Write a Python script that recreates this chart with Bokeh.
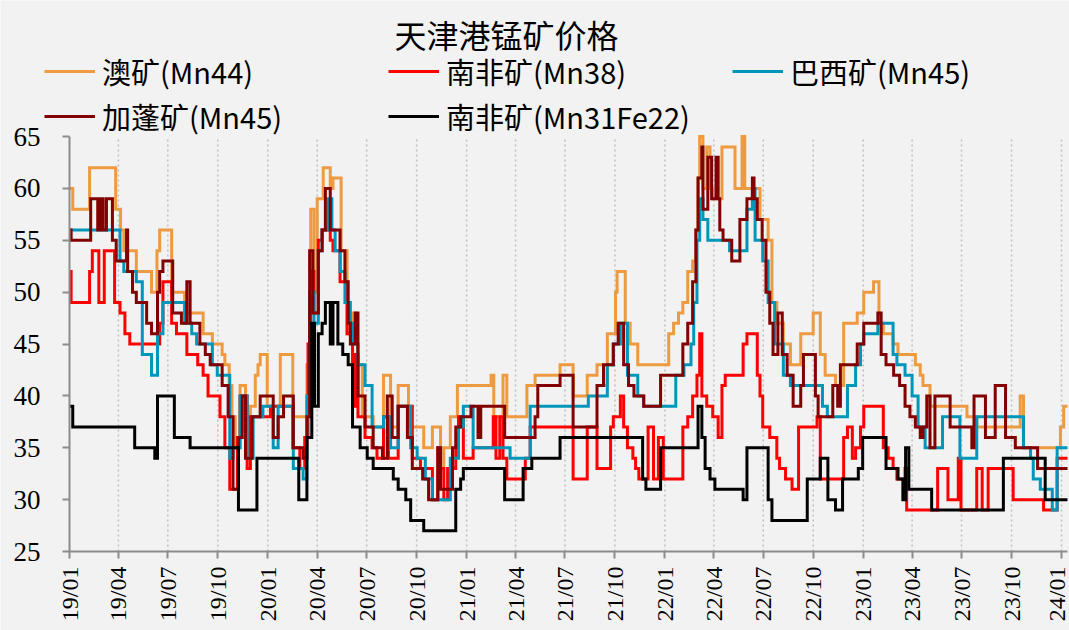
import pandas as pd
from math import pi
from bokeh.plotting import figure
from bokeh.models import (Legend, LegendItem, FixedTicker, DatetimeTickFormatter,
                          Range1d, ColumnDataSource, Label)
from bokeh.embed import file_html
from bokeh.resources import INLINE

# ---------------- data ----------------
title_text = "天津港锰矿价格"
series_names = ["澳矿(Mn44)", "南非矿(Mn38)", "巴西矿(Mn45)", "加蓬矿(Mn45)", "南非矿(Mn31Fe22)"]
series_colors = ["#EE9A40", "#FF0000", "#0096B9", "#820000", "#000000"]

tick_labels = ["19/01", "19/04", "19/07", "19/10", "20/01", "20/04", "20/07", "20/10",
               "21/01", "21/04", "21/07", "21/10", "22/01", "22/04", "22/07", "22/10",
               "23/01", "23/04", "23/07", "23/10", "24/01"]
y_ticks = [25, 30, 35, 40, 45, 50, 55, 60, 65]

aus_dates = ["2019-01-01", "2019-01-07", "2019-02-07", "2019-03-27", "2019-04-05", "2019-04-11",
             "2019-05-04", "2019-06-01", "2019-06-11", "2019-06-16", "2019-07-08", "2019-08-01",
             "2019-09-04", "2019-09-21", "2019-10-09", "2019-10-14", "2019-10-22", "2019-10-27",
             "2019-11-02", "2019-11-11", "2019-11-21", "2019-11-30", "2019-12-09", "2019-12-14",
             "2019-12-18", "2019-12-31", "2020-01-24", "2020-02-16", "2020-03-13", "2020-03-20",
             "2020-03-26", "2020-04-01", "2020-04-12", "2020-04-25", "2020-04-30", "2020-05-15",
             "2020-05-26", "2020-06-05", "2020-06-10", "2020-06-14", "2020-06-23", "2020-07-13",
             "2020-08-01", "2020-08-14", "2020-08-28", "2020-09-16", "2020-10-14", "2020-10-30",
             "2020-11-14", "2020-11-20", "2020-12-02", "2020-12-15", "2021-02-15", "2021-02-20",
             "2021-03-09", "2021-03-16", "2021-04-22", "2021-05-07", "2021-06-22", "2021-07-16",
             "2021-08-11", "2021-08-29", "2021-09-10", "2021-09-17", "2021-10-02", "2021-10-05",
             "2021-10-20", "2021-10-29", "2021-11-12", "2022-01-08", "2022-01-17", "2022-01-26",
             "2022-02-03", "2022-02-12", "2022-02-21", "2022-02-27", "2022-03-03", "2022-03-06",
             "2022-03-12", "2022-03-19", "2022-03-25", "2022-03-30", "2022-04-16", "2022-05-10",
             "2022-05-23", "2022-05-28", "2022-06-25", "2022-07-10", "2022-07-17", "2022-07-26",
             "2022-08-07", "2022-08-20", "2022-09-08", "2022-10-01", "2022-10-14", "2022-10-23",
             "2022-11-11", "2022-11-26", "2022-12-21", "2023-01-02", "2023-01-20", "2023-01-30",
             "2023-02-07", "2023-02-25", "2023-03-06", "2023-04-07", "2023-04-16", "2023-04-21",
             "2023-05-04", "2023-07-11", "2023-07-29", "2023-10-17", "2023-10-23", "2023-12-30",
             "2024-01-05", "2024-01-12"]
aus_vals = [60, 58, 62, 58, 56, 54, 52, 50, 54, 56, 50, 48, 46, 45, 44, 43, 41, 38, 35, 41,
            36, 39, 42, 43, 44, 39, 44, 38, 43, 58, 50, 59, 62, 60, 61, 54, 46, 48, 46, 43,
            38, 37, 42, 37, 41, 37, 35, 37, 33, 35, 38, 41, 42, 38, 42, 38, 41, 42, 43, 40,
            42, 43, 41, 46, 50, 52, 47, 45, 43, 46, 47, 48, 49, 52, 53, 56, 61, 65, 60, 64,
            60, 59, 64, 60, 65, 60, 57, 55, 49, 47, 45, 43, 46, 48, 44, 42, 41, 47, 48, 50,
            51, 47, 46, 45, 44, 43, 42, 41, 39, 38, 37, 40, 35, 37, 39, 39]

sa38_dates = ["2019-01-01", "2019-01-04", "2019-02-07", "2019-02-12", "2019-02-24", "2019-03-06",
              "2019-03-25", "2019-04-04", "2019-04-13", "2019-04-22", "2019-06-16", "2019-06-22",
              "2019-07-08", "2019-07-17", "2019-08-05", "2019-08-25", "2019-09-04", "2019-09-13",
              "2019-10-05", "2019-10-14", "2019-10-23", "2019-11-06", "2019-11-11", "2019-11-24",
              "2019-11-30", "2020-01-06", "2020-02-16", "2020-02-29", "2020-03-09", "2020-03-15",
              "2020-03-20", "2020-03-26", "2020-04-03", "2020-04-10", "2020-04-25", "2020-04-30",
              "2020-05-13", "2020-05-26", "2020-06-05", "2020-06-10", "2020-06-15", "2020-06-28",
              "2020-07-11", "2020-07-20", "2020-08-01", "2020-08-10", "2020-08-28", "2020-09-23",
              "2020-10-08", "2020-10-30", "2020-11-09", "2020-11-14", "2020-11-20", "2020-11-27",
              "2020-12-12", "2020-12-17", "2020-12-26", "2021-01-13", "2021-02-19", "2021-02-24",
              "2021-03-03", "2021-03-09", "2021-03-16", "2021-04-19", "2021-04-28", "2021-07-16",
              "2021-08-11", "2021-08-29", "2021-09-23", "2021-09-28", "2021-10-11", "2021-10-17",
              "2021-10-24", "2021-11-03", "2021-11-08", "2021-11-14", "2021-12-01", "2021-12-11",
              "2021-12-20", "2021-12-29", "2022-02-03", "2022-02-12", "2022-02-21", "2022-03-01",
              "2022-03-06", "2022-03-10", "2022-03-19", "2022-03-30", "2022-04-09", "2022-04-16",
              "2022-04-22", "2022-05-25", "2022-06-01", "2022-06-20", "2022-06-25", "2022-06-30",
              "2022-07-13", "2022-07-26", "2022-07-31", "2022-08-11", "2022-08-23", "2022-09-04",
              "2022-10-08", "2022-10-14", "2022-11-26", "2022-12-03", "2022-12-12", "2022-12-18",
              "2022-12-27", "2023-01-02", "2023-02-07", "2023-02-16", "2023-02-25", "2023-03-04",
              "2023-03-19", "2023-03-22", "2023-05-18", "2023-06-06", "2023-06-25", "2023-06-30",
              "2023-07-29", "2023-08-08", "2023-08-19", "2023-10-04", "2023-11-29", "2023-12-24",
              "2024-01-12"]
sa38_vals = [52, 49, 52, 54, 49, 54, 49, 48, 46, 45, 47, 51, 47, 46, 44, 43, 42, 40, 38, 35,
             31, 36, 40, 33, 38, 39, 35, 33, 36, 45, 52, 48, 55, 56, 55, 54, 51, 46, 39, 44,
             38, 36, 35, 34, 38, 34, 39, 34, 33, 30, 35, 33, 30, 33, 35, 38, 34, 35, 38, 34,
             38, 34, 32, 34, 37, 32, 37, 33, 37, 38, 40, 37, 35, 34, 33, 32, 37, 32, 36, 32,
             37, 38, 40, 42, 46, 40, 39, 38, 36, 41, 42, 45, 46, 42, 40, 37, 36, 34, 33, 32,
             31, 37, 38, 32, 36, 37, 34, 35, 37, 39, 35, 34, 33, 32, 33, 29, 33, 30, 34, 29,
             33, 29, 33, 30, 29, 34, 34]

bra_dates = ["2019-01-01", "2019-04-04", "2019-04-11", "2019-05-04", "2019-05-15", "2019-06-01",
             "2019-06-12", "2019-06-22", "2019-08-01", "2019-08-14", "2019-08-23", "2019-09-21",
             "2019-09-30", "2019-10-23", "2019-10-29", "2019-11-11", "2019-11-24", "2019-12-05",
             "2019-12-23", "2020-01-11", "2020-01-20", "2020-02-17", "2020-03-06", "2020-03-13",
             "2020-03-18", "2020-03-26", "2020-04-03", "2020-04-10", "2020-04-21", "2020-04-28",
             "2020-05-04", "2020-05-13", "2020-05-22", "2020-06-01", "2020-06-06", "2020-06-15",
             "2020-06-28", "2020-07-11", "2020-08-01", "2020-08-14", "2020-08-28", "2020-09-20",
             "2020-10-02", "2020-10-17", "2020-10-30", "2020-12-02", "2020-12-17", "2020-12-26",
             "2021-01-13", "2021-03-22", "2021-04-28", "2021-08-13", "2021-09-17", "2021-09-28",
             "2021-10-11", "2021-10-24", "2021-11-12", "2021-11-23", "2022-01-21", "2022-02-05",
             "2022-02-18", "2022-02-23", "2022-03-01", "2022-03-06", "2022-03-12", "2022-03-21",
             "2022-04-30", "2022-06-01", "2022-06-11", "2022-06-16", "2022-06-30", "2022-07-10",
             "2022-07-22", "2022-08-07", "2022-08-20", "2022-10-18", "2022-10-27", "2022-12-03",
             "2022-12-18", "2022-12-27", "2023-01-02", "2023-01-28", "2023-02-25", "2023-03-04",
             "2023-03-19", "2023-04-01", "2023-04-12", "2023-04-25", "2023-05-27", "2023-06-28",
             "2023-07-29", "2023-10-23", "2023-11-05", "2023-11-10", "2023-11-23", "2023-12-15",
             "2023-12-24", "2024-01-12"]
bra_vals = [56, 53, 52, 51, 44, 42, 46, 49, 47, 46, 45, 43, 42, 34, 35, 40, 34, 38, 39, 35,
            39, 33, 32, 40, 50, 47, 54, 56, 59, 56, 54, 52, 49, 47, 45, 43, 41, 37, 38, 35,
            39, 35, 34, 32, 30, 34, 37, 39, 35, 34, 39, 40, 43, 45, 47, 42, 40, 39, 42, 43,
            45, 49, 55, 59, 57, 55, 54, 58, 60, 55, 53, 49, 45, 42, 41, 39, 38, 41, 43, 45,
            46, 47, 44, 43, 42, 40, 37, 35, 38, 34, 38, 35, 34, 32, 31, 29, 35, 35]

gab_dates = ["2019-01-01", "2019-01-04", "2019-02-09", "2019-02-22", "2019-02-27", "2019-03-04",
             "2019-03-10", "2019-03-21", "2019-03-28", "2019-04-16", "2019-04-18", "2019-04-27",
             "2019-05-04", "2019-05-23", "2019-06-01", "2019-06-12", "2019-06-16", "2019-06-22",
             "2019-07-10", "2019-07-26", "2019-08-05", "2019-08-11", "2019-08-29", "2019-09-08",
             "2019-09-17", "2019-10-09", "2019-10-20", "2019-10-29", "2019-11-08", "2019-11-15",
             "2019-11-21", "2019-12-03", "2019-12-18", "2020-01-11", "2020-01-20", "2020-01-30",
             "2020-02-17", "2020-03-06", "2020-03-13", "2020-03-18", "2020-03-24", "2020-04-03",
             "2020-04-10", "2020-04-16", "2020-04-25", "2020-05-13", "2020-05-22", "2020-05-28",
             "2020-06-01", "2020-06-10", "2020-06-15", "2020-06-28", "2020-07-13", "2020-07-30",
             "2020-08-08", "2020-08-17", "2020-08-28", "2020-09-14", "2020-09-23", "2020-10-12",
             "2020-10-23", "2020-11-09", "2020-11-14", "2020-12-06", "2020-12-12", "2020-12-21",
             "2021-01-09", "2021-01-22", "2021-01-27", "2021-03-12", "2021-05-07", "2021-05-12",
             "2021-06-22", "2021-07-16", "2021-08-29", "2021-09-10", "2021-09-28", "2021-10-07",
             "2021-10-17", "2021-10-26", "2021-11-05", "2021-11-23", "2021-12-24", "2022-02-03",
             "2022-02-12", "2022-02-21", "2022-02-27", "2022-03-03", "2022-03-10", "2022-03-12",
             "2022-03-21", "2022-03-28", "2022-04-05", "2022-04-09", "2022-04-12", "2022-04-18",
             "2022-05-04", "2022-05-19", "2022-06-01", "2022-06-11", "2022-06-14", "2022-06-20",
             "2022-06-29", "2022-07-06", "2022-07-13", "2022-07-19", "2022-07-28", "2022-08-05",
             "2022-08-14", "2022-08-25", "2022-09-08", "2022-09-13", "2022-10-05", "2022-10-10",
             "2022-11-06", "2022-11-15", "2022-11-20", "2022-12-21", "2023-01-02", "2023-01-28",
             "2023-02-03", "2023-02-12", "2023-02-26", "2023-03-09", "2023-03-19", "2023-03-28",
             "2023-04-07", "2023-04-16", "2023-04-21", "2023-04-28", "2023-05-04", "2023-05-13",
             "2023-06-10", "2023-07-20", "2023-07-24", "2023-08-14", "2023-09-01", "2023-09-20",
             "2023-10-08", "2023-11-18", "2024-01-12"]
gab_vals = [56, 55, 59, 56, 59, 56, 59, 55, 53, 56, 52, 50, 49, 47, 46, 50, 52, 53, 48, 47,
            51, 47, 45, 44, 43, 41, 38, 31, 36, 40, 34, 38, 40, 36, 38, 40, 35, 34, 38, 54,
            48, 54, 56, 60, 56, 54, 51, 47, 45, 48, 40, 37, 35, 34, 40, 36, 39, 36, 33, 32,
            30, 35, 31, 35, 37, 38, 39, 36, 39, 36, 38, 41, 42, 37, 41, 43, 45, 47, 43, 41,
            40, 39, 42, 45, 47, 51, 56, 61, 64, 58, 63, 59, 63, 59, 56, 55, 53, 57, 59, 61,
            59, 57, 55, 50, 47, 44, 48, 44, 42, 39, 41, 44, 40, 38, 41, 39, 43, 45, 47, 48,
            44, 43, 42, 41, 39, 38, 37, 36, 37, 40, 35, 40, 37, 35, 40, 36, 41, 36, 35, 33,
            33]

sa31_dates = ["2019-01-01", "2019-01-07", "2019-05-01", "2019-06-07", "2019-06-12", "2019-07-13",
              "2019-08-11", "2019-11-08", "2019-12-12", "2020-02-27", "2020-03-13", "2020-03-22",
              "2020-03-27", "2020-04-03", "2020-04-10", "2020-04-16", "2020-04-25", "2020-04-30",
              "2020-05-09", "2020-05-18", "2020-05-28", "2020-06-05", "2020-06-19", "2020-07-02",
              "2020-07-13", "2020-08-19", "2020-08-28", "2020-09-11", "2020-09-20", "2020-10-14",
              "2020-12-12", "2020-12-21", "2020-12-26", "2021-03-12", "2021-04-15", "2021-05-01",
              "2021-06-22", "2021-11-21", "2021-11-27", "2021-12-24", "2022-03-03", "2022-03-10",
              "2022-03-16", "2022-03-25", "2022-04-03", "2022-05-25", "2022-06-01", "2022-07-10",
              "2022-07-17", "2022-09-20", "2022-10-14", "2022-10-28", "2022-11-11", "2022-11-24",
              "2022-12-23", "2022-12-31", "2023-02-12", "2023-03-06", "2023-03-15", "2023-03-20",
              "2023-03-26", "2023-05-07", "2023-09-16", "2023-12-02", "2024-01-12"]
sa31_vals = [39, 37, 35, 34, 40, 36, 35, 29, 34, 30, 36, 47, 39, 46, 47, 49, 45, 49, 45, 44,
             43, 37, 35, 34, 33, 32, 31, 30, 28, 27, 31, 32, 33, 30, 33, 34, 36, 32, 31, 35,
             39, 36, 33, 32, 31, 30, 35, 30, 28, 32, 34, 30, 29, 32, 33, 36, 33, 32, 30, 35,
             31, 29, 34, 30, 30]

series_dates = [aus_dates, sa38_dates, bra_dates, gab_dates, sa31_dates]
series_vals = [aus_vals, sa38_vals, bra_vals, gab_vals, sa31_vals]

# ---------------- layout (pixels of the page) ----------------
W, H = 1069, 630
AX_LEFT, AX_RIGHT_TICK, AX_RIGHT_END = 69, 1061, 1067   # x pixel of first tick, last tick, axis end
AX_TOP, AX_BOTTOM = 136, 551                           # y pixel of y_max and y_min
BG = "#f2f2f2"
AXIS_GREY = "#8c8c8c"
CJK = "Noto Sans CJK SC"
SERIF = "Liberation Serif"

tick_dates = pd.to_datetime(["20" + t for t in tick_labels], format="%Y/%m")
ms = lambda ts: ts.value / 1e6
t0, t1 = ms(tick_dates[0]), ms(tick_dates[-1])
px_per_ms = (AX_RIGHT_TICK - AX_LEFT) / (t1 - t0)
x_lo = t0 - AX_LEFT / px_per_ms
x_hi = t0 + (W - AX_LEFT) / px_per_ms
x_axis_end = t0 + (AX_RIGHT_END - AX_LEFT) / px_per_ms
y_min, y_max = y_ticks[0], y_ticks[-1]
px_per_unit = (AX_BOTTOM - AX_TOP) / (y_max - y_min)
y_hi = y_max + AX_TOP / px_per_unit
y_lo = y_min - (H - AX_BOTTOM) / px_per_unit

p = figure(width=W, height=H, x_axis_type="datetime", output_backend="svg",
           toolbar_location=None, title=None,
           x_range=Range1d(x_lo, x_hi), y_range=Range1d(y_lo, y_hi),
           min_border=0, min_border_top=0, min_border_bottom=0,
           min_border_left=0, min_border_right=0,
           background_fill_color=BG, border_fill_color=BG, outline_line_color=None)

# dotted vertical grid at the date ticks (between y_min and y_max)
p.segment(x0=list(tick_dates[1:]), y0=y_min, x1=list(tick_dates[1:]), y1=y_max,
          line_color="#bfbfbf", line_dash="2 3", line_width=1.5)

# lines
items = []
for name, color, d, v in zip(series_names, series_colors, series_dates, series_vals):
    src = ColumnDataSource(dict(date=pd.to_datetime(d), val=v))
    r = p.step(x="date", y="val", source=src, mode="after", line_width=3,
               line_color=color, line_join="miter")
    items.append(LegendItem(label=name, renderers=[r]))

legend = Legend(items=items, orientation="horizontal", ncols=3,
                location=(44, H - 137), padding=0, margin=0, spacing=3,
                glyph_width=51, glyph_height=20, label_height=20, label_width=283,
                label_standoff=7, label_text_font=CJK, label_text_font_size="29px",
                label_text_color="#000000", background_fill_alpha=0,
                border_line_alpha=0)
p.add_layout(legend, "center")

p.add_layout(Label(x=506, y=H - 33, x_units="screen", y_units="screen", text=title_text,
                   text_font=CJK, text_font_size="32px", text_color="#000000",
                   text_align="center", text_baseline="middle"))

# axes, pinned to the data corner
p.yaxis.fixed_location = t0
p.xaxis.fixed_location = y_min
p.yaxis.bounds = (y_min, y_max)
p.xaxis.bounds = (t0, x_axis_end)
p.yaxis.ticker = FixedTicker(ticks=y_ticks)
p.yaxis.major_label_text_font = SERIF
p.yaxis.major_label_text_font_size = "27px"
p.yaxis.major_label_text_color = "#000000"
p.yaxis.major_label_standoff = 22
p.xaxis.ticker = FixedTicker(ticks=[ms(d) for d in tick_dates])
fmt = "%y/%m"
p.xaxis.formatter = DatetimeTickFormatter(
    microseconds=fmt, milliseconds=fmt, seconds=fmt, minsec=fmt, minutes=fmt,
    hourmin=fmt, hours=fmt, days=fmt, months=fmt, years=fmt)
p.xaxis.major_label_orientation = pi / 2
p.xaxis.major_label_text_font = SERIF
p.xaxis.major_label_text_font_size = "24px"
p.xaxis.major_label_text_color = "#000000"
p.xaxis.major_label_standoff = 8
for ax in (p.xaxis, p.yaxis):
    ax.axis_line_color = AXIS_GREY
    ax.axis_line_width = 2
    ax.major_tick_line_color = AXIS_GREY
    ax.major_tick_line_width = 2
    ax.major_tick_out = 7
    ax.major_tick_in = 0
    ax.minor_tick_line_color = None

p.xgrid.visible = False
p.ygrid.visible = False

open("out.html", "w").write(file_html(p, INLINE))
